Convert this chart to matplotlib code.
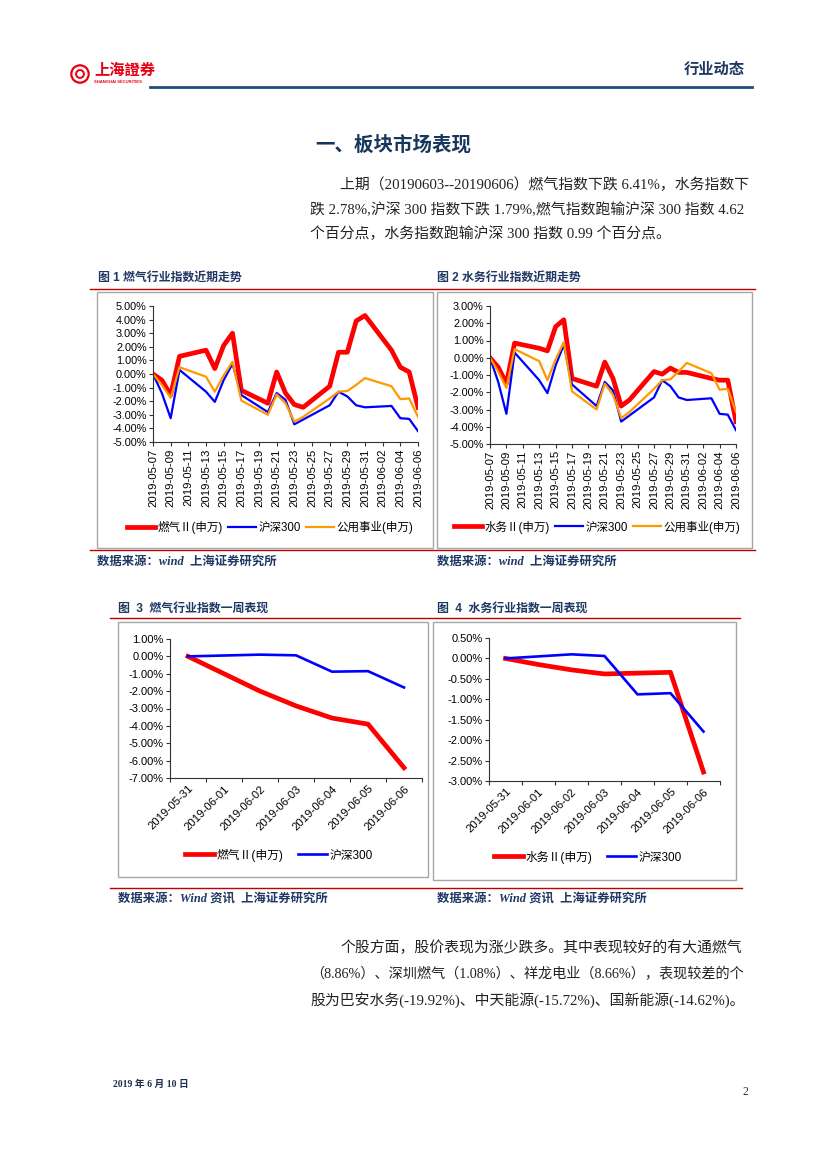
import numpy as np
import pandas as pd
import matplotlib
matplotlib.use("Agg")
import matplotlib.pyplot as plt
import matplotlib.dates as mdates
from matplotlib.ticker import FuncFormatter
from matplotlib.patches import Rectangle, Circle
from matplotlib.lines import Line2D

plt.rcParams['font.family'] = ['Liberation Sans', 'Noto Sans CJK SC', 'DejaVu Sans']
plt.rcParams['axes.unicode_minus'] = False

W, H = 827, 1169
NAVY = '#1F3864'
RED = '#FF0000'
BLUE = '#0000FF'
ORANGE = '#FF9900'
SERIF = ['Liberation Serif', 'Noto Sans CJK SC']

# ---- data: month view (trading days), % change since 2019-05-07
days = ['2019-05-07', '2019-05-08', '2019-05-09', '2019-05-10', '2019-05-13',
        '2019-05-14', '2019-05-15', '2019-05-16', '2019-05-17', '2019-05-20',
        '2019-05-21', '2019-05-22', '2019-05-23', '2019-05-24', '2019-05-27',
        '2019-05-28', '2019-05-29', '2019-05-30', '2019-05-31', '2019-06-03',
        '2019-06-04', '2019-06-05', '2019-06-06']
gas = [0.0, -0.45, -1.55, 1.3, 1.75, 0.4, 2.1, 3.0, -1.2, -2.15, 0.15, -1.4,
       -2.25, -2.45, -0.9, 1.6, 1.6, 3.9, 4.3, 1.75, 0.5, 0.15, -2.45]
water = [0.0, -0.55, -1.5, 0.85, 0.55, 0.4, 1.8, 2.2, -1.2, -1.65, -0.25, -1.2,
         -2.8, -2.45, -0.8, -0.95, -0.6, -0.85, -0.85, -1.2, -1.3, -1.3, -3.7]
hs300 = [0.0, -1.4, -3.25, 0.3, -1.3, -2.05, -0.45, 0.75, -1.55, -2.8, -1.4,
         -1.9, -3.7, -3.35, -2.3, -1.3, -1.65, -2.3, -2.45, -2.35, -3.25, -3.3, -4.2]
utility = [0.0, -0.8, -1.75, 0.5, -0.2, -1.3, -0.1, 0.9, -1.95, -3.0, -1.5,
           -2.15, -3.5, -3.15, -1.8, -1.3, -1.25, -0.8, -0.3, -0.9, -1.85, -1.8, -3.15]

# ---- data: week view
week = ['2019-05-31', '2019-06-01', '2019-06-02', '2019-06-03',
        '2019-06-04', '2019-06-05', '2019-06-06']
gas_week = [0.0, -1.0, -2.0, -2.85, -3.55, -3.9, -6.41]
water_week = [0.0, -0.15, -0.28, -0.38, -0.36, -0.34, -2.78]
hs300_week = [0.0, 0.05, 0.1, 0.06, -0.88, -0.85, -1.79]

fig = plt.figure(figsize=(8.27, 11.69), dpi=100)


def fx(x):
    return x / W


def fy(y):
    return 1 - y / H


def text(x, y, s, **kw):
    fig.text(fx(x), fy(y), s, va='center', **kw)


def hline(y, x0, x1, color, lw):
    fig.add_artist(Line2D([fx(x0), fx(x1)], [fy(y), fy(y)], color=color, lw=lw))


def box(x0, y0, x1, y1):
    fig.add_artist(Rectangle((fx(x0), fy(y1)), fx(x1) - fx(x0), fy(y0) - fy(y1),
                             fill=False, edgecolor='#A6A6A6', lw=1.0))


def px_axes(l, t, r, b):
    return fig.add_axes([fx(l), fy(b), fx(r) - fx(l), fy(t) - fy(b)])


def style(ax, size):
    for s in ['top', 'right']:
        ax.spines[s].set_visible(False)
    for s in ['left', 'bottom']:
        ax.spines[s].set_color('#333333')
        ax.spines[s].set_linewidth(0.8)
    ax.tick_params(direction='out', length=3, width=0.8, labelsize=size,
                   color='#333333', pad=1.5)
    ax.yaxis.set_major_formatter(FuncFormatter(lambda v, _: f'{v:.2f}%'))


# ---- header
logo = fig.add_axes([fx(70), fy(84), fx(20), fx(20) * W / H])
logo.set_aspect('equal')
logo.axis('off')
logo.add_patch(Circle((0, 0), 1.0, fill=False, ec='#E60012', lw=1.6))
logo.add_patch(Circle((0, 0), 0.45, fill=False, ec='#E60012', lw=1.4))
logo.set_xlim(-1.15, 1.15)
logo.set_ylim(-1.15, 1.15)
text(94, 71, '上海證券', color='#E60012', fontsize=11, fontweight='bold')
text(94, 82, 'SHANGHAI SECURITIES', color='#E60012', fontsize=3, fontweight='bold')
text(745, 70, '行业动态', color=NAVY, fontsize=11, fontweight='bold', ha='right')
hline(87, 150, 752, '#1F4E79', 2.0)

# ---- section title and paragraph
text(315, 145, '一、板块市场表现', color='#17365D', fontsize=14, fontweight='bold')
body = dict(color='#222222', fontsize=10.7, family=SERIF)
text(340, 185, '上期（20190603--20190606）燃气指数下跌 6.41%，水务指数下', **body)
text(310, 210, '跌 2.78%,沪深 300 指数下跌 1.79%,燃气指数跑输沪深 300 指数 4.62', **body)
text(310, 234, '个百分点，水务指数跑输沪深 300 指数 0.99 个百分点。', **body)

# ---- captions
cap = dict(color=NAVY, fontsize=8.6, fontweight='bold')
text(98, 278, '图 1 燃气行业指数近期走势', **cap)
text(437, 278, '图 2 水务行业指数近期走势', **cap)
hline(289, 90, 755, '#C00000', 1.0)
box(97, 292, 433, 548)
box(437, 292, 752, 548)
hline(550, 90, 755, '#C00000', 1.0)
src = dict(color=NAVY, fontsize=8.9, fontweight='bold', style='italic', family=SERIF)
text(97, 562, '数据来源：wind  上海证券研究所', **src)
text(437, 562, '数据来源：wind  上海证券研究所', **src)

text(118, 609, '图  3  燃气行业指数一周表现', **cap)
text(437, 609, '图  4  水务行业指数一周表现', **cap)
hline(618, 110, 740, '#C00000', 1.0)
box(118, 622, 428, 877)
box(433, 622, 736, 880)
hline(888, 110, 742, '#C00000', 1.0)
text(118, 900, '数据来源：Wind 资讯  上海证券研究所', **src)
text(437, 900, '数据来源：Wind 资讯  上海证券研究所', **src)

# ---- month charts
dts = pd.to_datetime(days)
ticks = pd.date_range('2019-05-07', '2019-06-06', freq='2D')


def month_chart(ax, main, name, ylo, yhi, cx):
    ax.plot(dts, main, color=RED, lw=3.4, label=name, solid_joinstyle='round')
    ax.plot(dts, hs300, color=BLUE, lw=1.6, label='沪深300', solid_joinstyle='round')
    ax.plot(dts, utility, color=ORANGE, lw=1.6, label='公用事业(申万)', solid_joinstyle='round')
    style(ax, 7.8)
    ax.set_xlim(ticks[0], ticks[-1])
    ax.set_xticks(ticks)
    ax.xaxis.set_major_formatter(mdates.DateFormatter('%Y-%m-%d'))
    ax.tick_params(axis='x', rotation=90, labelsize=8.2)
    ax.set_ylim(ylo, yhi)
    ax.set_yticks(np.arange(ylo, yhi + 0.5, 1))
    ax.legend(loc='center', bbox_to_anchor=(fx(cx), fy(527)), bbox_transform=fig.transFigure,
              ncol=3, frameon=False, fontsize=8.3, handlelength=2.5,
              columnspacing=0.4, handletextpad=0.2)


ax1 = px_axes(153, 306, 418, 442)
month_chart(ax1, gas, '燃气Ⅱ(申万)', -5, 5, 270)
ax2 = px_axes(490, 306, 736, 444)
month_chart(ax2, water, '水务Ⅱ(申万)', -5, 3, 597)

# ---- week charts
def week_chart(ax, main, name, ylo, yhi, step, cx, cy):
    x = np.arange(len(week))
    ax.plot(x, main, color=RED, lw=3.4, label=name, solid_joinstyle='round')
    ax.plot(x, hs300_week, color=BLUE, lw=1.9, label='沪深300', solid_joinstyle='round')
    style(ax, 8)
    ax.set_xlim(-0.5, len(week) - 0.5)
    ax.set_xticks(x)
    ax.set_xticklabels(week, rotation=45, ha='right', rotation_mode='anchor', fontsize=8.2)
    ax.tick_params(axis='x', length=0, pad=4)
    ax.set_xticks(np.arange(-0.5, len(week)), minor=True)
    ax.tick_params(axis='x', which='minor', length=3, width=0.8, color='#333333')
    ax.set_ylim(ylo, yhi)
    ax.set_yticks(np.arange(ylo, yhi + step / 2, step))
    ax.legend(loc='center', bbox_to_anchor=(fx(cx), fy(cy)), bbox_transform=fig.transFigure,
              ncol=2, frameon=False, fontsize=8.5, handlelength=2.5,
              columnspacing=1.2, handletextpad=0.2)


ax3 = px_axes(170, 639, 422, 778)
week_chart(ax3, gas_week, '燃气Ⅱ(申万)', -7, 1, 1, 279, 855)
ax4 = px_axes(489, 638, 720, 781)
week_chart(ax4, water_week, '水务Ⅱ(申万)', -3, 0.5, 0.5, 588, 857)

# ---- second paragraph and footer
text(340, 948, '个股方面，股价表现为涨少跌多。其中表现较好的有大通燃气', **body)
text(310, 974, '（8.86%）、深圳燃气（1.08%）、祥龙电业（8.66%），表现较差的个',
     **{**body, 'fontsize': 10.2})
text(310, 1000, '股为巴安水务(-19.92%)、中天能源(-15.72%)、国新能源(-14.62%)。', **body)
text(113, 1084, '2019 年 6 月 10 日', color='#1F2D4D', fontsize=7, fontweight='bold', family=SERIF)
text(748, 1092, '2', color='#333333', fontsize=8.5, family=SERIF, ha='right')

fig.savefig('out.png', dpi=100)
